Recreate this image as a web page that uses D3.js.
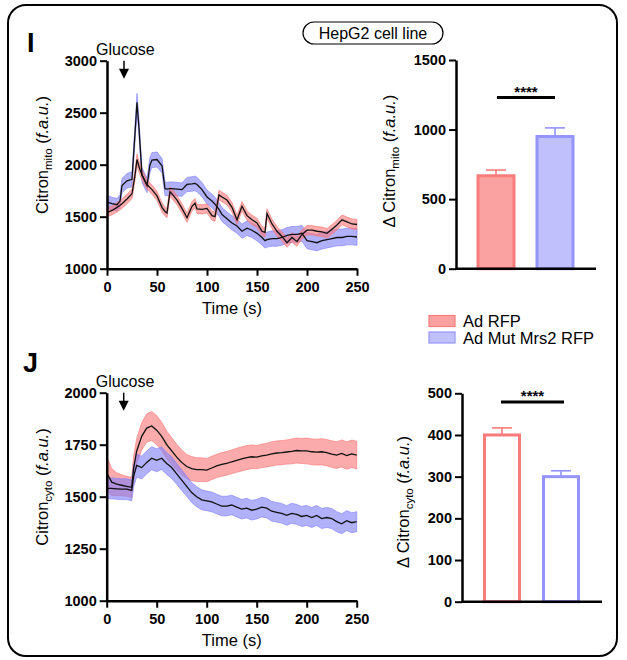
<!DOCTYPE html>
<html>
<head>
<meta charset="utf-8">
<script src="https://cdn.jsdelivr.net/npm/d3@7"></script>
<style>
  body { margin: 0; background: #fff; }
  svg { font-family: "Liberation Sans", Arial, sans-serif; }
</style>
</head>
<body>
<svg id="fig" width="627" height="660"></svg>
<script>
// ---- data ----
const groups = ['Ad RFP', 'Ad Mut Mrs2 RFP'];

// panel I : mitochondrial Citron trace
const tMito = [0,5,10,13,15,20,25,28,30,32,35,40,43,45,50,55,58,60,63,65,70,75,80,85,88,90,95,100,105,108,112,115,120,125,130,135,140,145,150,155,158,160,165,170,175,180,185,190,195,200,205,210,215,220,225,230,235,240,245,250];
const mitoRFP = [1540,1560,1590,1610,1625,1670,1720,1900,2050,1980,1900,1810,1780,1760,1700,1590,1550,1535,1740,1720,1660,1580,1490,1600,1630,1575,1570,1580,1510,1500,1710,1690,1660,1590,1470,1600,1510,1470,1440,1360,1350,1530,1430,1360,1310,1250,1300,1260,1330,1370,1370,1360,1355,1340,1380,1420,1470,1450,1430,1425];
const mitoRFPsem = [42,42,44,44,45,45,46,50,55,52,48,46,45,45,45,44,44,44,46,46,45,44,44,45,45,44,44,44,44,44,46,46,46,45,44,46,45,45,45,44,44,46,45,45,44,44,45,45,45,45,45,45,46,46,46,47,47,47,48,48];
const mitoMut = [1640,1625,1615,1650,1800,1845,1860,2300,2600,2350,1900,1800,2000,2045,2050,1990,1770,1765,1770,1770,1765,1760,1810,1815,1820,1810,1760,1690,1650,1620,1570,1520,1480,1440,1410,1360,1390,1370,1340,1300,1270,1280,1290,1290,1300,1320,1330,1330,1340,1270,1260,1250,1270,1280,1290,1300,1300,1310,1310,1305];
const mitoMutSem = [65,62,60,62,68,70,72,80,85,80,72,70,72,72,72,70,66,64,64,64,64,64,68,70,70,70,68,66,66,66,66,66,66,68,68,68,70,70,72,72,72,72,74,74,74,75,76,76,76,78,78,78,80,80,80,80,80,80,80,80];
const mitoBars = [668, 950];
const mitoBarSem = [41, 62];

// panel J : cytosolic Citron trace
const tCyto = [0,5,10,15,20,25,27,30,35,40,45,50,55,60,65,70,75,80,85,90,95,100,105,110,115,120,125,130,135,140,145,150,155,160,165,170,175,180,185,190,195,200,205,210,215,220,225,230,235,240,245,250];
const cytoRFP = [1615,1570,1560,1555,1550,1545,1640,1720,1790,1830,1840,1820,1790,1750,1720,1690,1665,1645,1635,1630,1630,1628,1638,1648,1655,1660,1668,1675,1682,1688,1692,1690,1696,1700,1706,1710,1712,1715,1718,1722,1720,1720,1716,1714,1716,1712,1705,1700,1708,1698,1706,1700];
const cytoRFPsem = [80,65,55,50,48,48,55,60,65,68,70,70,68,66,64,62,60,58,58,57,57,56,56,56,57,57,57,58,58,58,57,56,56,57,58,58,58,58,60,60,60,62,62,62,63,63,64,64,65,66,66,67];
const cytoMut = [1540,1540,1538,1536,1536,1530,1600,1650,1640,1665,1685,1675,1685,1660,1640,1610,1580,1550,1520,1500,1485,1480,1475,1465,1455,1455,1460,1450,1440,1445,1435,1440,1450,1445,1430,1425,1420,1410,1420,1415,1405,1410,1400,1410,1395,1400,1395,1380,1370,1385,1375,1380];
const cytoMutSem = [50,50,50,50,50,50,52,55,55,55,55,55,54,53,52,50,50,48,48,48,48,47,47,47,47,47,47,47,47,47,47,47,47,47,47,47,47,47,48,48,48,48,48,48,48,48,48,48,48,48,48,48];
const cytoBars = [400, 300];
const cytoBarSem = [17, 14];

const mitoTicks = [1000, 1500, 2000, 2500, 3000];
const cytoTicks = [1000, 1250, 1500, 1750, 2000];
const timeTicks = [0, 50, 100, 150, 200, 250];

// ---- styles ----
const bandFill = ['#f87878', '#8080f8'];
const barFill = ['#faa2a2', '#c0c0fc'];
const barStroke = ['#f87c7c', '#9494fa'];

const svg = d3.select('#fig');

// frame
svg.append('rect')
  .attr('x', 8).attr('y', 5).attr('width', 609).attr('height', 651)
  .attr('rx', 18)
  .attr('fill', 'none').attr('stroke', '#000').attr('stroke-width', 2);

// HepG2 label
svg.append('rect')
  .attr('x', 303).attr('y', 22).attr('width', 140).attr('height', 22).attr('rx', 11)
  .attr('fill', 'none').attr('stroke', '#000').attr('stroke-width', 1.2);
svg.append('text').attr('x', 373).attr('y', 39).attr('text-anchor', 'middle')
  .style('font-size', '16px').text('HepG2 cell line');

// panel letters
svg.append('text').attr('x', 27).attr('y', 52).style('font-size', '27px').style('font-weight', 'bold').text('I');
svg.append('text').attr('x', 23).attr('y', 372).style('font-size', '27px').style('font-weight', 'bold').text('J');

function styleAxis(g) {
  g.select('.domain').attr('stroke-width', 2.5);
  g.selectAll('.tick line').attr('stroke-width', 2);
  g.selectAll('.tick text')
    .style('font-size', '14.5px').style('font-weight', 'bold')
    .style('font-family', '"Liberation Sans", Arial, sans-serif');
}

// rotated y title with subscript
function yTitle(x, y, pre, sub) {
  const t = svg.append('text')
    .attr('transform', 'translate(' + x + ',' + y + ') rotate(-90)')
    .attr('text-anchor', 'middle')
    .style('font-size', '16.5px');
  t.append('tspan').text(pre + 'Citron');
  t.append('tspan').attr('dy', 4).style('font-size', '11.5px').text(sub);
  t.append('tspan').attr('dy', -4).text('\u00a0(');
  t.append('tspan').style('font-style', 'italic').text('f.a.u.');
  t.append('tspan').text(')');
}

function traceChart(cfg) {
  const x = d3.scaleLinear().domain([0, 250]).range([cfg.left, cfg.left + 250]);
  const y = d3.scaleLinear().domain(cfg.yDomain).range([cfg.bottom, cfg.top]);
  const g = svg.append('g');

  const series = [
    { mean: cfg.rfp, sem: cfg.rfpSem, color: bandFill[0] },
    { mean: cfg.mut, sem: cfg.mutSem, color: bandFill[1] }
  ];
  const order = cfg.redOnTop ? [1, 0] : [0, 1];

  const area = (s) => d3.area()
    .x((d, i) => x(cfg.t[i]))
    .y0((d, i) => y(d - s.sem[i]))
    .y1((d, i) => y(d + s.sem[i]));
  const line = d3.line().x((d, i) => x(cfg.t[i])).y(d => y(d));

  order.forEach(k => {
    const s = series[k];
    g.append('path').attr('d', area(s)(s.mean))
      .attr('fill', s.color).attr('fill-opacity', 0.62)
      .attr('stroke', s.color).attr('stroke-opacity', 0.8).attr('stroke-width', 0.8);
  });
  order.forEach(k => {
    const s = series[k];
    g.append('path').attr('d', line(s.mean))
      .attr('fill', 'none').attr('stroke', '#111').attr('stroke-width', 1.3);
  });

  const ya = g.append('g').attr('transform', 'translate(' + cfg.left + ',0)')
    .call(d3.axisLeft(y).tickValues(cfg.yTicks).tickSize(7).tickSizeOuter(0).tickPadding(3).tickFormat(d3.format('d')));
  styleAxis(ya);
  const xa = g.append('g').attr('transform', 'translate(0,' + cfg.bottom + ')')
    .call(d3.axisBottom(x).tickValues(timeTicks).tickSize(7).tickSizeOuter(0).tickPadding(6));
  styleAxis(xa);

  g.append('text').attr('x', cfg.left + 125).attr('y', cfg.bottom + 45)
    .attr('text-anchor', 'middle').style('font-size', '16.5px').text('Time (s)');

  // glucose marker
  const gx = x(17);
  g.append('text').attr('x', gx - 28).attr('y', cfg.top - 6)
    .style('font-size', '16px').text('Glucose');
  g.append('line').attr('x1', gx).attr('x2', gx).attr('y1', cfg.top).attr('y2', cfg.top + 10)
    .attr('stroke', '#000').attr('stroke-width', 1.5);
  g.append('path')
    .attr('d', 'M' + (gx - 5) + ',' + (cfg.top + 8) + 'L' + (gx + 5) + ',' + (cfg.top + 8) + 'L' + gx + ',' + (cfg.top + 18) + 'Z')
    .attr('fill', '#000');

  yTitle(48, cfg.titleY, '', cfg.sub);
}

function barChart(cfg) {
  const y = d3.scaleLinear().domain([0, cfg.max]).range([cfg.bottom, cfg.top]);
  const g = svg.append('g');

  cfg.vals.forEach((v, i) => {
    const x0 = cfg.barX[i];
    const w = cfg.barW;
    g.append('rect')
      .attr('x', x0).attr('y', y(v)).attr('width', w).attr('height', y(0) - y(v))
      .attr('fill', cfg.filled ? barFill[i] : '#fff')
      .attr('stroke', barStroke[i]).attr('stroke-width', 3);
    const cx = x0 + w / 2;
    g.append('line').attr('x1', cx).attr('x2', cx).attr('y1', y(v)).attr('y2', y(v + cfg.sem[i]))
      .attr('stroke', barStroke[i]).attr('stroke-width', 1.6);
    g.append('line').attr('x1', cx - 10).attr('x2', cx + 10).attr('y1', y(v + cfg.sem[i])).attr('y2', y(v + cfg.sem[i]))
      .attr('stroke', barStroke[i]).attr('stroke-width', 1.6);
  });

  const ya = g.append('g').attr('transform', 'translate(' + cfg.left + ',0)')
    .call(d3.axisLeft(y).tickValues(cfg.ticks).tickSize(7).tickSizeOuter(0).tickPadding(3).tickFormat(d3.format('d')));
  styleAxis(ya);
  g.append('line').attr('x1', cfg.left).attr('x2', cfg.right).attr('y1', cfg.bottom).attr('y2', cfg.bottom)
    .attr('stroke', '#000').attr('stroke-width', 2.5);

  // significance
  g.append('line').attr('x1', cfg.sig[0]).attr('x2', cfg.sig[1]).attr('y1', cfg.sigY).attr('y2', cfg.sigY)
    .attr('stroke', '#000').attr('stroke-width', 3);
  g.append('text').attr('x', (cfg.sig[0] + cfg.sig[1]) / 2).attr('y', cfg.sigY - 1)
    .attr('text-anchor', 'middle').style('font-size', '15px').style('font-weight', 'bold').text('****');

  yTitle(cfg.titleX, cfg.titleY, '\u0394 ', cfg.sub);
}

traceChart({
  t: tMito, rfp: mitoRFP, rfpSem: mitoRFPsem, mut: mitoMut, mutSem: mitoMutSem,
  left: 107, top: 60.7, bottom: 268.7, yDomain: [1000, 3000], yTicks: mitoTicks,
  sub: 'mito', titleY: 155, redOnTop: true
});
traceChart({
  t: tCyto, rfp: cytoRFP, rfpSem: cytoRFPsem, mut: cytoMut, mutSem: cytoMutSem,
  left: 106.7, top: 392.7, bottom: 600.7, yDomain: [1000, 2000], yTicks: cytoTicks,
  sub: 'cyto', titleY: 487, redOnTop: false
});

barChart({
  vals: mitoBars, sem: mitoBarSem, max: 1500, ticks: [0, 500, 1000, 1500],
  left: 456, right: 596, top: 60, bottom: 268.7,
  barX: [478, 537], barW: 36, filled: true,
  sig: [497, 555], sigY: 97.5, sub: 'mito', titleX: 395, titleY: 161
});
barChart({
  vals: cytoBars, sem: cytoBarSem, max: 500, ticks: [0, 100, 200, 300, 400, 500],
  left: 462, right: 602, top: 393.3, bottom: 601.7,
  barX: [484.5, 543.5], barW: 35, filled: false,
  sig: [501, 564], sigY: 402, sub: 'cyto', titleX: 409, titleY: 502
});

// legend
const leg = svg.append('g');
groups.forEach((name, i) => {
  leg.append('rect').attr('x', 429).attr('y', 315.5 + i * 16.5).attr('width', 26).attr('height', 11)
    .attr('fill', barFill[i]).attr('stroke', barStroke[i]).attr('stroke-width', 1.2);
  leg.append('text').attr('x', 463).attr('y', 327 + i * 16.5)
    .style('font-size', '16.5px').text(name);
});
</script>
</body>
</html>
